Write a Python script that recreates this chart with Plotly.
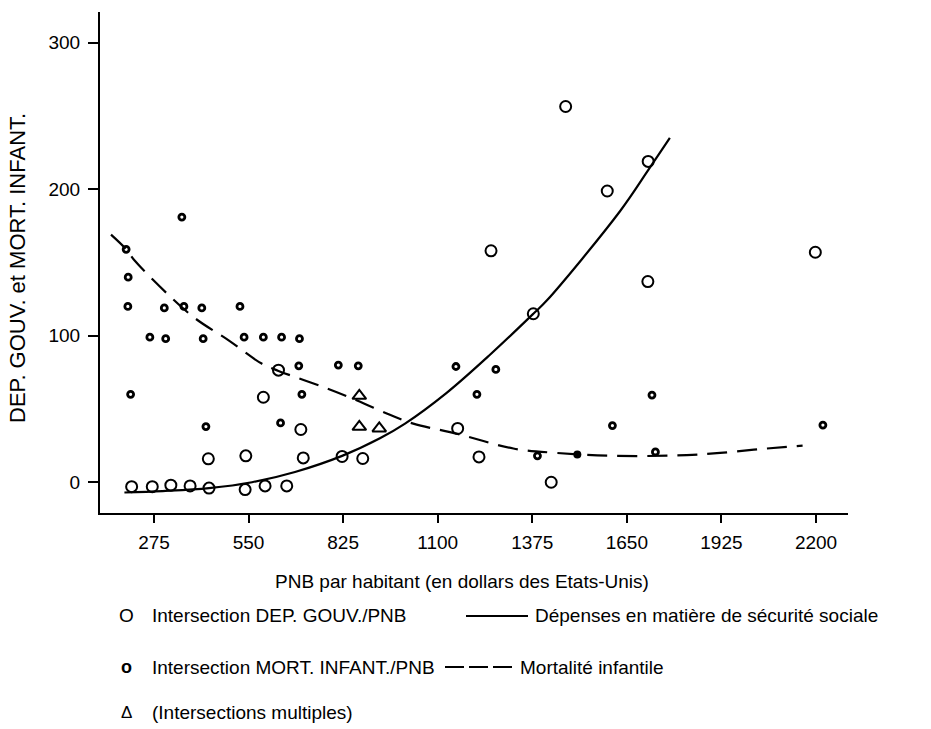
import plotly.graph_objects as go

# ---- data ----
gov_x = [210, 270, 324, 380, 435, 433, 542, 540, 598, 593, 637, 661, 702, 709, 822, 882,
         1158, 1220, 1255, 1378, 1430, 1472, 1593, 1712, 1711, 2198]
gov_y = [-3, -3, -2, -2.5, -4, 16, 18, -5, -2.5, 58, 76.5, -2.5, 36, 16.6, 17.6, 16.2,
         36.7, 17.3, 158, 115, 0, 256.5, 198.8, 219, 137, 157]

mort_x = [194, 200, 199, 207, 263, 309, 305, 362, 356, 414, 418, 426, 525, 537, 593, 646,
          643, 696, 698, 705, 811, 869, 1153, 1269, 1214, 1390, 1608, 1723, 1733, 2220]
mort_y = [159, 140, 120, 60, 99, 98, 119, 120, 181, 119, 98, 38, 120, 99, 99, 99,
          40.5, 79.5, 98, 60, 80, 79.5, 79, 77, 60, 18, 38.7, 59.5, 20.7, 39]

filled_x = [1506]
filled_y = [19]

multi_x = [872, 872, 930]
multi_y = [59, 37.8, 36.7]

# fitted curves
soc_x = [189, 300, 435, 560, 685, 822, 932, 1005, 1126, 1252, 1378, 1417, 1630, 1712, 1775]
soc_y = [-7, -6, -4, 0, 7, 18, 30, 40, 61, 87, 115, 124, 185, 213, 235]

inf_x = [150, 194, 220, 312, 394, 491, 588, 637, 767, 864, 961, 1029, 1158, 1320, 1446,
         1610, 1824, 1921, 2037, 2161]
inf_y = [169, 159, 151, 129, 112, 97, 81, 76, 65, 56, 46, 40, 33, 23, 20,
         18, 18.5, 20, 22.6, 25]

x_ticks = [275, 550, 825, 1100, 1375, 1650, 1925, 2200]
y_ticks = [0, 100, 200, 300]

x_title = "PNB par habitant (en dollars des Etats-Unis)"
y_title = "DEP. GOUV. et MORT. INFANT."
leg_gov = "Intersection DEP. GOUV./PNB"
leg_mort = "Intersection MORT. INFANT./PNB"
leg_multi = "(Intersections multiples)"
leg_soc = "Dépenses en matière de sécurité sociale"
leg_inf = "Mortalité infantile"

# ---- figure ----
W, H = 931, 729
L, R, T, B = 100, 83, 12, 216
PW, PH = W - L - R, H - T - B

def px(xp):
    return (xp - L) / PW

def py(yp):
    return (H - B - yp) / PH

FONT = "Liberation Sans, Arial, sans-serif"

fig = go.Figure()
fig.add_trace(go.Scatter(x=soc_x, y=soc_y, mode="lines", line=dict(color="black", width=2.2, shape="spline"),
                         hoverinfo="skip", showlegend=False))
fig.add_trace(go.Scatter(x=inf_x, y=inf_y, mode="lines",
                         line=dict(color="black", width=2.2, dash="20px,10px", shape="spline"),
                         hoverinfo="skip", showlegend=False))
fig.add_trace(go.Scatter(x=gov_x, y=gov_y, mode="markers",
                         marker=dict(symbol="circle-open", size=11, color="black", line=dict(width=2, color="black")),
                         showlegend=False))
fig.add_trace(go.Scatter(x=mort_x, y=mort_y, mode="markers",
                         marker=dict(symbol="circle-open", size=6, color="black", line=dict(width=2.8, color="black")),
                         showlegend=False))
fig.add_trace(go.Scatter(x=filled_x, y=filled_y, mode="markers",
                         marker=dict(symbol="circle", size=8, color="black"),
                         showlegend=False))
fig.add_trace(go.Scatter(x=multi_x, y=multi_y, mode="markers",
                         marker=dict(symbol="triangle-up-open", size=12, color="black", line=dict(width=2, color="black")),
                         showlegend=False))

annotations = []
def ann(text, xp, yp, size=19, xanchor="left", angle=0, family=FONT):
    annotations.append(dict(text=text, x=px(xp), y=py(yp), xref="paper", yref="paper",
                            xanchor=xanchor, yanchor="middle", showarrow=False, textangle=angle,
                            font=dict(family=family, size=size, color="black")))

ann(x_title, 462, 581, size=19, xanchor="center")
ann(y_title, 17, 268, size=22, xanchor="center", angle=-90)
ann("O", 126, 616, size=19, xanchor="center")
ann(leg_gov, 150, 616)
ann(leg_soc, 533, 616)
ann("<b>o</b>", 126, 667, size=18, xanchor="center")
ann(leg_mort, 150, 667)
ann(leg_inf, 518, 667)
ann("Δ", 126, 712, size=17, xanchor="center")
ann(leg_multi, 150, 712)

shapes = [
    dict(type="line", xref="paper", yref="paper", x0=px(466), x1=px(528), y0=py(616), y1=py(616),
         line=dict(color="black", width=2)),
    dict(type="line", xref="paper", yref="paper", x0=px(445), x1=px(512), y0=py(667), y1=py(667),
         line=dict(color="black", width=2, dash="19px,5px")),
]

fig.update_layout(
    width=W, height=H, autosize=False,
    margin=dict(l=L, r=R, t=T, b=B, pad=0),
    plot_bgcolor="white", paper_bgcolor="white",
    annotations=annotations, shapes=shapes,
    showlegend=False,
    xaxis=dict(range=[118, 2293], tickvals=x_ticks, ticktext=[str(v) for v in x_ticks],
               showline=True, linecolor="black", linewidth=2, ticks="outside", ticklen=8,
               tickwidth=1.5, tickcolor="black", showgrid=False, zeroline=False,
               tickfont=dict(family=FONT, size=19, color="black"), ticklabelstandoff=3),
    yaxis=dict(range=[-21, 321], tickvals=y_ticks, ticktext=[str(v) for v in y_ticks],
               showline=True, linecolor="black", linewidth=2, ticks="outside", ticklen=10,
               tickwidth=1.5, tickcolor="black", showgrid=False, zeroline=False,
               tickfont=dict(family=FONT, size=19, color="black"), ticklabelstandoff=4),
)

fig.write_html("out.html")
